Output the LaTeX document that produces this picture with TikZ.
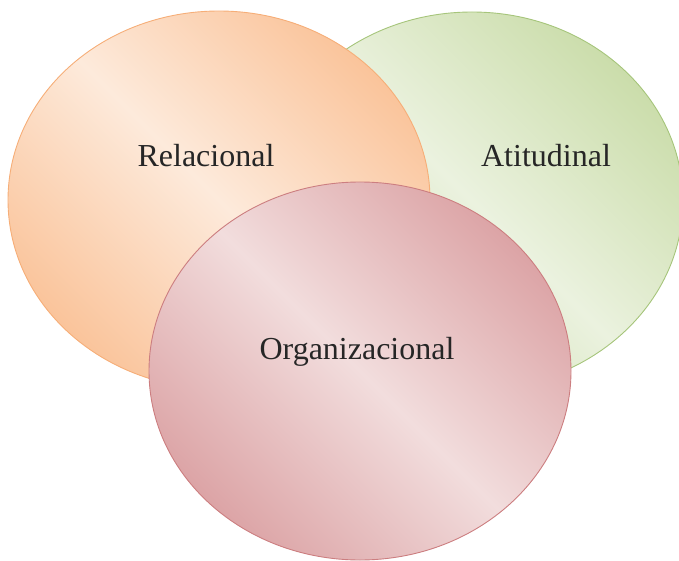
\documentclass[tikz,border=0pt]{standalone}
\usepackage{fontspec}
\setmainfont{Liberation Serif}
\usepackage{tikz}
\usetikzlibrary{shapes.geometric,positioning}

\definecolor{relLight}{HTML}{FDEADB}
\definecolor{relDark}{HTML}{FAC49B}
\definecolor{relLine}{HTML}{F6AE78}
\definecolor{atiLight}{HTML}{EBF2DF}
\definecolor{atiDark}{HTML}{CBDDAB}
\definecolor{atiLine}{HTML}{A6C57B}
\definecolor{orgLight}{HTML}{F2DDDD}
\definecolor{orgDark}{HTML}{DCA4A6}
\definecolor{orgLine}{HTML}{CC7E80}

\begin{document}
\begin{tikzpicture}[x=1pt, y=-1pt,
			blob/.style = {ellipse, inner sep=0pt, minimum width=422pt,
					minimum height=378pt, line width=0.9pt},
			relblob/.style = {blob, draw=relLine, top color=relDark,
					bottom color=relDark, middle color=relLight, shading angle=-45},
			atiblob/.style = {blob, draw=atiLine, top color=atiDark,
					bottom color=atiDark, middle color=atiLight, shading angle=-45},
			orgblob/.style = {blob, draw=orgLine, top color=orgDark,
					bottom color=orgDark, middle color=orgLight, shading angle=-45},
			txt/.style = {anchor=base, inner sep=0pt, text=black!85,
					font=\fontsize{32}{38}\selectfont}
		]
		\useasboundingbox (0,0) rectangle (679,561);
		% the three sets, back to front
		\node [atiblob] (ati) at (472,201) {};
		\node [relblob] (rel) at (219,200) {};
		\node [orgblob] (org) at (360,371) {};
		% labels
		\node [txt] (reltxt) at (206,167) {Relacional};
		\node [txt] (atitxt) at (546,167) {Atitudinal};
		\node [txt] (orgtxt) at (357,359) {Organizacional};
	\end{tikzpicture}
\end{document}
